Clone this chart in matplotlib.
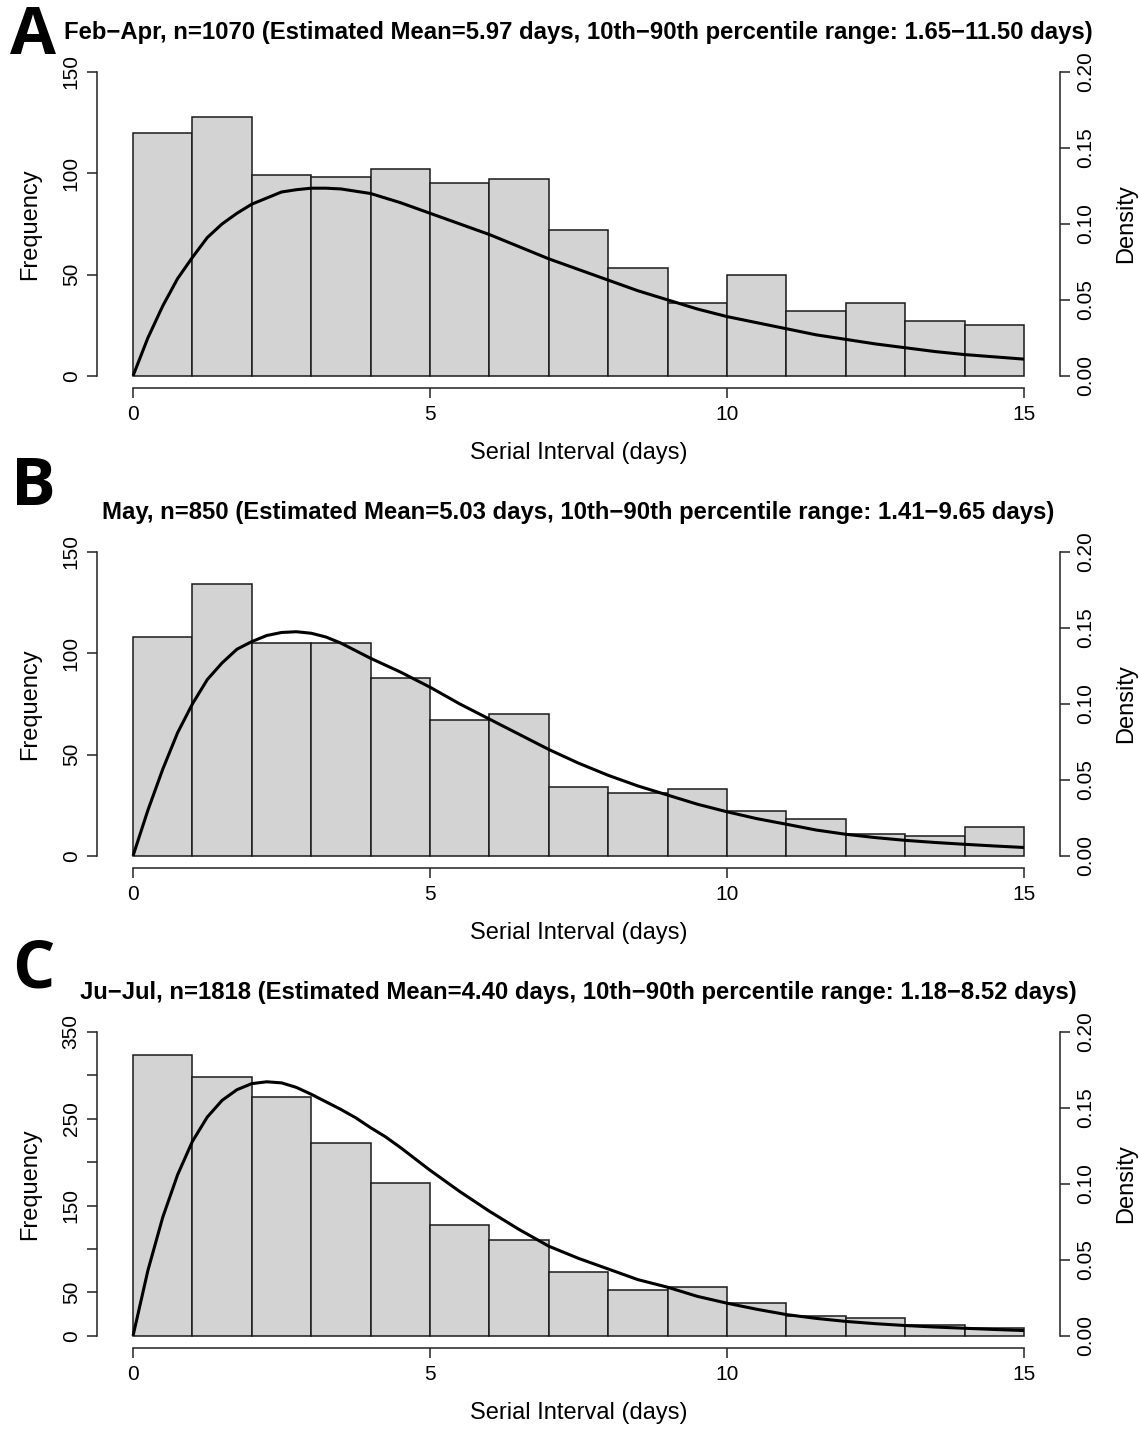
import numpy as np
import matplotlib
matplotlib.use("Agg")
import matplotlib.pyplot as plt

plt.rcParams['font.family'] = ['Liberation Sans', 'DejaVu Sans']

# histogram bins (days) and counts
bin_edges = [0, 1, 2, 3, 4, 5, 6, 7, 8, 9, 10, 11, 12, 13, 14, 15]

counts_a = [120, 128, 99, 98, 102, 95, 97, 72, 53, 36, 50, 32, 36, 27, 25]
counts_b = [108, 134, 105, 105, 88, 67, 70, 34, 31, 33, 22, 18, 11, 10, 14]
counts_c = [323, 298, 275, 222, 176, 128, 110, 73, 53, 56, 38, 23, 21, 13, 9]

# fitted density curves
curve_x = [0, 0.25, 0.5, 0.75, 1, 1.25, 1.5, 1.75, 2, 2.25, 2.5, 2.75, 3, 3.25, 3.5,
           3.75, 4, 4.25, 4.5, 5, 5.5, 6, 6.5, 7, 7.5, 8, 8.5, 9, 9.5, 10, 10.5,
           11, 11.5, 12, 12.5, 13, 13.5, 14, 14.5, 15]
dens_a = [0, 0.025, 0.046, 0.064, 0.078, 0.091, 0.100, 0.107, 0.113, 0.117, 0.121,
          0.1225, 0.1235, 0.1235, 0.123, 0.1215, 0.120, 0.117, 0.114, 0.107, 0.100,
          0.093, 0.085, 0.077, 0.070, 0.063, 0.056, 0.050, 0.044, 0.039, 0.035,
          0.031, 0.027, 0.024, 0.021, 0.0185, 0.016, 0.014, 0.0125, 0.011]
dens_b = [0, 0.030, 0.057, 0.081, 0.100, 0.116, 0.127, 0.136, 0.141, 0.145, 0.147,
          0.1475, 0.1465, 0.144, 0.140, 0.135, 0.130, 0.1255, 0.121, 0.111, 0.100,
          0.090, 0.080, 0.070, 0.061, 0.053, 0.046, 0.040, 0.034, 0.029, 0.0245,
          0.0208, 0.017, 0.0142, 0.012, 0.0102, 0.0088, 0.0076, 0.0065, 0.0055]
dens_c = [0, 0.043, 0.078, 0.106, 0.128, 0.144, 0.155, 0.162, 0.166, 0.1672, 0.1665,
          0.1635, 0.159, 0.154, 0.149, 0.1435, 0.137, 0.131, 0.124, 0.109, 0.095,
          0.082, 0.070, 0.059, 0.051, 0.044, 0.037, 0.032, 0.026, 0.0215, 0.0175,
          0.014, 0.0115, 0.0095, 0.008, 0.0068, 0.0058, 0.005, 0.0042, 0.0035]

titles = [
    "Feb\u2212Apr, n=1070 (Estimated Mean=5.97 days, 10th\u221290th percentile range: 1.65\u221211.50 days)",
    "May, n=850 (Estimated Mean=5.03 days, 10th\u221290th percentile range: 1.41\u22129.65 days)",
    "Ju\u2212Jul, n=1818 (Estimated Mean=4.40 days, 10th\u221290th percentile range: 1.18\u22128.52 days)",
]
letters = ["A", "B", "C"]
letter_y = [37, 488, 970]
freq_max = [150, 150, 350]
freq_ticks = [[0, 50, 100, 150], [0, 50, 100, 150], [0, 50, 100, 150, 200, 250, 300, 350]]
freq_labels = [["0", "50", "100", "150"], ["0", "50", "100", "150"],
               ["0", "50", "", "150", "", "250", "", "350"]]
dens_ticks = [0, 0.05, 0.10, 0.15, 0.20]
dens_labels = ["0.00", "0.05", "0.10", "0.15", "0.20"]

W, H = 1139, 1429
fig = plt.figure(figsize=(W / 100, H / 100), dpi=100)

panels = [(counts_a, dens_a), (counts_b, dens_b), (counts_c, dens_c)]
for i, (counts, dens) in enumerate(panels):
    off = 480 * i
    left, right = 97.4, 1059.6
    top, bottom = 59.8 + off, 388 + off
    ax = fig.add_axes([left / W, 1 - bottom / H, (right - left) / W, (bottom - top) / H])
    ymax = freq_max[i]
    ax.bar(bin_edges[:-1], counts, width=1, align='edge', color='#d3d3d3',
           edgecolor='#1a1a1a', linewidth=1.1, zorder=2)
    ax.set_xlim(-0.6, 15.6)
    ax.set_ylim(-0.04 * ymax, 1.04 * ymax)
    for s in ['top', 'right']:
        ax.spines[s].set_visible(False)
    ax.spines['left'].set_bounds(0, ymax)
    ax.spines['bottom'].set_bounds(0, 15)
    for s in ['left', 'bottom']:
        ax.spines[s].set_linewidth(1.1)
        ax.spines[s].set_color('#222222')
    ax.set_xticks([0, 5, 10, 15])
    ax.set_xticklabels(["0", "5", "10", "15"], fontsize=15)
    ax.set_yticks(freq_ticks[i])
    ax.set_yticklabels(freq_labels[i], fontsize=15, rotation=90, va='center')
    ax.tick_params(axis='both', length=7, width=1.1, color='#222222', pad=5)

    ax2 = ax.twinx()
    ax2.plot(curve_x, dens, color='black', linewidth=2.2, zorder=3,
             solid_joinstyle='round', solid_capstyle='butt')
    ax2.set_ylim(-0.008, 0.208)
    for s in ['top', 'left', 'bottom']:
        ax2.spines[s].set_visible(False)
    ax2.spines['right'].set_bounds(0, 0.2)
    ax2.spines['right'].set_linewidth(1.1)
    ax2.spines['right'].set_color('#222222')
    ax2.set_yticks(dens_ticks)
    ax2.set_yticklabels(dens_labels, fontsize=15, rotation=90, va='center')
    ax2.tick_params(axis='y', length=7, width=1.1, color='#222222', pad=5)

    # axis titles, placed like R's mtext
    mid_y = (top + bottom) / 2
    fig.text(30 / W, 1 - mid_y / H, "Frequency", fontsize=17, rotation=90,
             ha='center', va='center')
    fig.text(1126 / W, 1 - mid_y / H, "Density", fontsize=17, rotation=90,
             ha='center', va='center')
    fig.text(579 / W, 1 - (453 + off) / H, "Serial Interval (days)", fontsize=17,
             ha='center', va='center')

    fig.text(578 / W, 1 - (33 + off) / H, titles[i], fontsize=17.2,
             fontweight='bold', ha='center', va='center')
    fig.text(33 / W, 1 - letter_y[i] / H, letters[i], fontsize=48,
             fontweight='bold', ha='center', va='center',
             family=['Open Sans', 'DejaVu Sans'])

fig.savefig("out.png", dpi=100)
